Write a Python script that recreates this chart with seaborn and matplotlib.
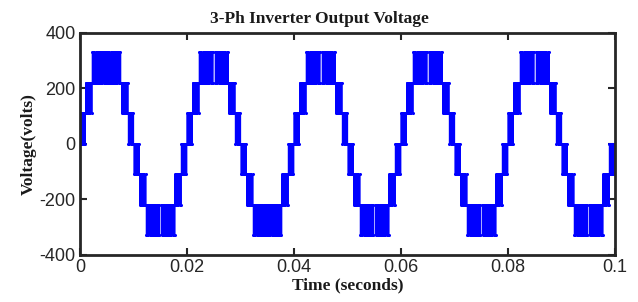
import numpy as np
import pandas as pd
import matplotlib
matplotlib.use("Agg")
import matplotlib.pyplot as plt
import seaborn as sns

# ---- values ----
levels = [0, 110, 220, 330]                       # inverter voltage levels (V)
period = 0.02                                     # 50 Hz fundamental
n_periods = 5
# band edges inside one period (s): each band is a PWM region between two adjacent levels
band_edges = [0.0, 0.00105, 0.0023, 0.0077, 0.00895, 0.0100,
              0.01105, 0.0123, 0.0177, 0.01895, 0.0200]
band_low = [0, 1, 2, 1, 0, -1, -2, -3, -2, -1]    # level index of lower edge
band_high = [1, 2, 3, 2, 1, 0, -1, -2, -1, 0]     # level index of upper edge
peak_bands = [2, 7]                               # crest bands (+330 / -330)
pos_gap = [False, True, True, True, True]         # white hold slot at +crest, per cycle
neg_gap = [True, False, True, True, True]         # white hold slot at -crest, per cycle
gap_width = 0.00038
carrier_hz = 5000
x_ticks = [0, 0.02, 0.04, 0.06, 0.08, 0.1]
x_ticklabels = ["0", "0.02", "0.04", "0.06", "0.08", "0.1"]
y_ticks = [-400, -200, 0, 200, 400]


def volt(i):
    return np.sign(i) * levels[abs(i)]


h = 1.0 / (2 * carrier_hz)
ts, vs = [], []


def pwm(s, e, lo, hi):
    t = np.arange(s, e, h)
    v = np.where(np.arange(len(t)) % 2 == 0, hi, lo)
    ts.extend(t.tolist())
    vs.extend(v.tolist())


for p in range(n_periods):
    for b in range(len(band_low)):
        s = p * period + band_edges[b]
        e = p * period + band_edges[b + 1]
        lo, hi = volt(band_low[b]), volt(band_high[b])
        gap = False
        if b == peak_bands[0] and pos_gap[p]:
            gap, hold = True, hi
        if b == peak_bands[1] and neg_gap[p]:
            gap, hold = True, lo
        if gap:
            c = 0.5 * (s + e)
            pwm(s, c - gap_width / 2, lo, hi)
            ts.append(c - gap_width / 2)
            vs.append(hold)
            pwm(c + gap_width / 2, e, lo, hi)
        else:
            pwm(s, e, lo, hi)
ts.append(n_periods * period)
vs.append(0)

df = pd.DataFrame({"t": ts, "v": vs})

sns.set_theme(style="white")
plt.rcParams["font.family"] = ["Liberation Sans", "DejaVu Sans"]
plt.rcParams["axes.unicode_minus"] = False

fig = plt.figure(figsize=(6.38, 3.02), dpi=100)
ax = fig.add_axes([0.1254, 0.156, 0.8386, 0.735])

sns.lineplot(data=df, x="t", y="v", ax=ax, estimator=None, sort=False,
             color="#0000ff", linewidth=0.9, linestyle="-",
             drawstyle="steps-post", marker="o", markersize=2.2,
             markeredgewidth=0, alpha=1.0)

ax.set_xlim(0, 0.1)
ax.set_ylim(-400, 400)
ax.set_xticks(x_ticks)
ax.set_xticklabels(x_ticklabels)
ax.set_yticks(y_ticks)
ax.tick_params(axis="both", direction="in", length=5, width=1.5,
               labelsize=13, colors="#262626", top=True, right=True,
               bottom=True, left=True, pad=3)
for sp in ax.spines.values():
    sp.set_visible(True)
    sp.set_color("#262626")
    sp.set_linewidth(2)

serif = ["Liberation Serif", "DejaVu Serif"]
ax.set_title("3-Ph Inverter Output Voltage", family=serif, fontweight="bold",
             fontsize=12.5, color="#1a1a1a", pad=7, x=(319 - 80) / 535)
ax.set_xlabel("Time (seconds)", family=serif, fontweight="bold",
              fontsize=12.5, color="#1a1a1a", labelpad=1)
ax.set_ylabel("Voltage(volts)", family=serif, fontweight="bold",
              fontsize=12.5, color="#1a1a1a", labelpad=2)

fig.savefig("out.png", dpi=100, facecolor="white")
